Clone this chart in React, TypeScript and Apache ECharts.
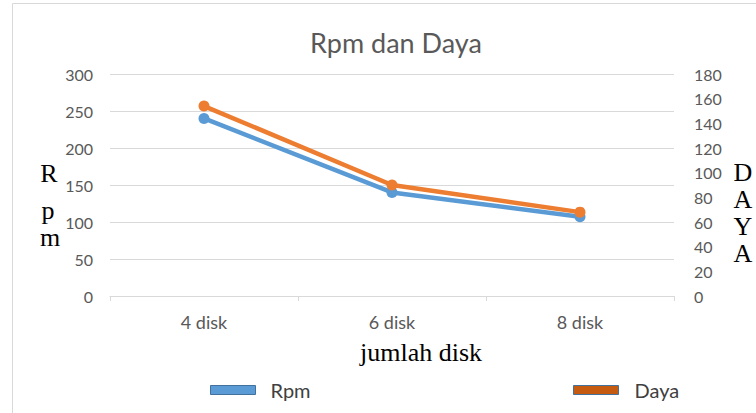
import React, { useEffect, useRef } from "react";
import * as echarts from "echarts";

const categories = ["4 disk", "6 disk", "8 disk"];
const rpmValues = [240, 140, 107];
const dayaValues = [154, 90, 68];
const leftTicks = { min: 0, max: 300, interval: 50 };
const rightTicks = { min: 0, max: 180, interval: 20 };

export default function App() {
  const ref = useRef<HTMLDivElement>(null);
  useEffect(() => {
    if (!ref.current) return;
    const chart = echarts.init(ref.current, null, { renderer: "svg" });
    const labelFont = "Lato, 'Open Sans', sans-serif";
    const serif = "'Liberation Serif', 'DejaVu Serif', serif";
    chart.setOption({
      animation: false,
      backgroundColor: "#ffffff",
      title: {
        text: "Rpm dan Daya",
        left: 391,
        top: 24,
        textAlign: "center",
        textStyle: { fontFamily: labelFont, fontSize: 27, fontWeight: "normal", color: "#595959" },
      },
      grid: { left: 110, right: 82, top: 74, bottom: 117 },
      legend: [
        {
          left: 205,
          top: 375,
          itemWidth: 45,
          itemHeight: 9,
          itemGap: 10,
          icon: "rect",
          data: [{ name: "Rpm", itemStyle: { color: "#5B9BD5", borderColor: "#41719C", borderWidth: 1 } }],
          textStyle: { fontFamily: labelFont, fontSize: 20, color: "#404040", padding: [0, 0, 0, 10] },
        },
        {
          left: 568,
          top: 375,
          itemWidth: 45,
          itemHeight: 9,
          icon: "rect",
          data: [{ name: "Daya", itemStyle: { color: "#C55A11", borderColor: "#41719C", borderWidth: 1 } }],
          textStyle: { fontFamily: labelFont, fontSize: 20, color: "#404040", padding: [0, 0, 0, 11] },
        },
      ],
      xAxis: {
        type: "category",
        data: categories,
        boundaryGap: true,
        axisLine: { lineStyle: { color: "#D9D9D9", width: 1 } },
        axisTick: { show: true, length: 5, lineStyle: { color: "#D9D9D9" } },
        axisLabel: { fontFamily: labelFont, fontSize: 18, color: "#595959", margin: 17 },
        splitLine: { show: false },
      },
      yAxis: [
        {
          type: "value",
          min: leftTicks.min,
          max: leftTicks.max,
          interval: leftTicks.interval,
          axisLine: { show: false },
          axisTick: { show: false },
          axisLabel: { fontFamily: labelFont, fontSize: 16, color: "#595959", margin: 17 },
          splitLine: { lineStyle: { color: "#D9D9D9", width: 1 } },
        },
        {
          type: "value",
          position: "right",
          min: rightTicks.min,
          max: rightTicks.max,
          interval: rightTicks.interval,
          axisLine: { show: false },
          axisTick: { show: false },
          axisLabel: { fontFamily: labelFont, fontSize: 16, color: "#595959", margin: 20 },
          splitLine: { show: false },
        },
      ],
      graphic: [
        {
          type: "rect",
          shape: { x: 12.5, y: 3.5, width: 800, height: 500 },
          style: { fill: "none", stroke: "#D9D9D9", lineWidth: 1 },
          silent: true,
          z: -1,
        },
        { type: "text", x: 49, y: 186, style: { text: "R", font: `26px ${serif}`, fill: "#000", align: "center", verticalAlign: "bottom" } },
        { type: "text", x: 48, y: 223, style: { text: "p", font: `26px ${serif}`, fill: "#000", align: "center", verticalAlign: "bottom" } },
        { type: "text", x: 50, y: 250, style: { text: "m", font: `26px ${serif}`, fill: "#000", align: "center", verticalAlign: "bottom" } },
        { type: "text", x: 743, y: 185, style: { text: "D", font: `26px ${serif}`, fill: "#000", align: "center", verticalAlign: "bottom" } },
        { type: "text", x: 743, y: 212, style: { text: "A", font: `26px ${serif}`, fill: "#000", align: "center", verticalAlign: "bottom" } },
        { type: "text", x: 743, y: 239, style: { text: "Y", font: `26px ${serif}`, fill: "#000", align: "center", verticalAlign: "bottom" } },
        { type: "text", x: 743, y: 266, style: { text: "A", font: `26px ${serif}`, fill: "#000", align: "center", verticalAlign: "bottom" } },
        { type: "text", x: 421, y: 352, style: { text: "jumlah disk", font: `26px ${serif}`, fill: "#000", align: "center", verticalAlign: "middle" } },
      ],
      series: [
        {
          name: "Rpm",
          type: "line",
          yAxisIndex: 0,
          data: rpmValues,
          symbol: "circle",
          symbolSize: 11,
          lineStyle: { color: "#5B9BD5", width: 4.5 },
          itemStyle: { color: "#5B9BD5" },
        },
        {
          name: "Daya",
          type: "line",
          yAxisIndex: 1,
          data: dayaValues,
          symbol: "circle",
          symbolSize: 11,
          lineStyle: { color: "#ED7D31", width: 4.5 },
          itemStyle: { color: "#ED7D31" },
        },
      ],
    });
    return () => chart.dispose();
  }, []);
  return (
    <div
      ref={ref}
      style={{ position: "fixed", left: 0, top: 0, width: 756, height: 413, background: "#fff" }}
    />
  );
}
